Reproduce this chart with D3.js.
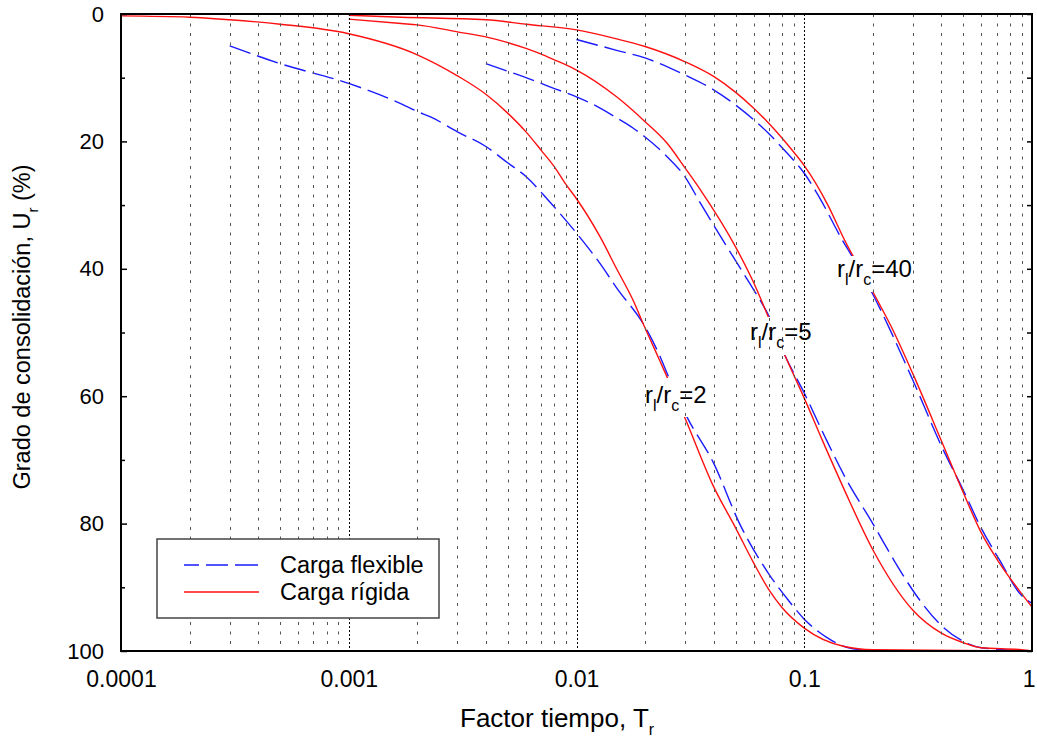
<!DOCTYPE html>
<html>
<head>
<meta charset="utf-8">
<script src="https://cdn.jsdelivr.net/npm/d3@7"></script>
<style>
html,body{margin:0;padding:0;background:#fff;}
text{font-family:"Liberation Sans",Arial,sans-serif;fill:#000;}
</style>
</head>
<body>
<svg id="chart" width="1037" height="740"></svg>
<script>
// ---- data ----
const xTickValues = [0.0001, 0.001, 0.01, 0.1, 1];
const xTickLabels = ["0.0001", "0.001", "0.01", "0.1", "1"];
const yTickValues = [0, 20, 40, 60, 80, 100];
const yMinorTicks = [10, 30, 50, 70, 90];

// r_l/r_c = 2
const rigid2T = [0.0001,0.0002,0.0003,0.0005,0.001,0.002,0.003,0.004,0.005,0.006,0.007,0.008,0.009,0.01,0.0127,0.015,0.0177,0.02,0.0228,0.025,0.03,0.04,0.05,0.06,0.07,0.08,0.1,0.15,0.2,1];
const rigid2U = [0.3,0.5,0.9,1.6,3.1,6.4,9.7,12.6,15.6,18.5,21.4,24,26.8,29,35,40,44.9,49.3,53.8,57,63.5,74.2,80.7,86.2,90.4,93.2,96.4,99.3,99.8,100];
const flex2T = [0.0003,0.0005,0.001,0.0017,0.002,0.0023,0.003,0.004,0.005,0.006,0.0075,0.01,0.0127,0.015,0.02,0.0233,0.0254,0.0305,0.04,0.052,0.069,0.085,0.1,0.126,0.15,0.2];
const flex2U = [5,7.8,10.9,14.1,15.3,16.2,18.5,20.8,23.4,25.5,29.2,34.4,39.2,43,49.1,53.8,57,63.2,70.5,80,87.6,92,95,97.9,99.3,100];

// r_l/r_c = 5
const rigid5T = [0.001,0.0017,0.002,0.003,0.004,0.005,0.006,0.007,0.008,0.009,0.01,0.015,0.02,0.025,0.03,0.035,0.05,0.06,0.07,0.082,0.1,0.12,0.15,0.2,0.3,0.4,0.5,0.6,0.9,1];
const rigid5U = [0.8,1.5,1.7,2.8,3.6,4.5,5.4,6.3,7.2,8,8.8,13,16.9,20.3,24.2,27.6,36.6,42.2,47.8,53.5,60.3,66.9,74.7,84.1,93.6,97.2,98.7,99.5,99.8,100];
const flex5T = [0.004,0.005,0.006,0.007,0.008,0.01,0.0123,0.015,0.0177,0.02,0.025,0.03,0.035,0.0487,0.06,0.069,0.082,0.1,0.1226,0.15,0.2,0.25,0.3,0.4,0.5,0.6,1];
const flex5U = [7.8,9,10,10.9,11.7,13,14.5,16.3,17.9,19.3,22.4,25.6,29.7,38.1,43.3,47,53.5,59.5,66.2,72.5,80,86,90.5,96,98.5,99.5,100];

// r_l/r_c = 40
const rigid40T = [0.001,0.0017,0.004,0.006,0.01,0.015,0.02,0.03,0.04,0.05,0.06,0.07,0.08,0.09,0.1,0.127,0.148,0.2,0.245,0.3,0.4,0.5,0.6,0.72,0.9,1];
const rigid40U = [0.2,0.5,0.9,1.6,2.5,3.9,5.1,7.5,9.8,12.3,14.8,17.2,19.5,21.7,23.8,30,35,43.6,49.6,56.5,67,75.2,81.5,86.2,91,93.1];
const flex40T = [0.01,0.015,0.02,0.03,0.04,0.05,0.06,0.07,0.08,0.09,0.1,0.117,0.147,0.165,0.2,0.3,0.4,0.5,0.6,0.72,0.9,1];
const flex40U = [4,5.7,6.9,9.6,11.9,14.3,16.6,18.8,21,23,25,28.9,35.5,38.5,44,57.5,67.8,74.8,80.8,85.7,91.3,92.5];

const seriesNames = ["Carga flexible", "Carga rígida"];
const seriesColors = ["#1a1aff", "#ff1010"];

// ---- layout ----
const svg = d3.select("#chart");
const L = 121, R = 1032, T = 14, B = 651;
const x = d3.scaleLog().domain([0.0001, 1]).range([L, R]);
const y = d3.scaleLinear().domain([0, 100]).range([T, B]);

const line = d3.line().x(d => x(d[0])).y(d => y(d[1])).curve(d3.curveMonotoneX);
function zip(a, b) { return a.map((v, i) => [v, b[i]]); }

const curves = [
  {T: flex2T, U: flex2U, s: 0}, {T: rigid2T, U: rigid2U, s: 1},
  {T: flex5T, U: flex5U, s: 0}, {T: rigid5T, U: rigid5U, s: 1},
  {T: flex40T, U: flex40U, s: 0}, {T: rigid40T, U: rigid40U, s: 1}
];

svg.append("g").selectAll("path").data(curves).join("path")
  .attr("d", d => line(zip(d.T, d.U)))
  .attr("fill", "none")
  .attr("stroke", d => seriesColors[d.s])
  .attr("stroke-width", 1.4)
  .attr("stroke-dasharray", d => d.s === 0 ? "22,7" : null);

// label white boxes (break the curves)
const labels = [
  {num: "2", x: 645, y: 403, box: [643, 378, 66, 39]},
  {num: "5", x: 750, y: 340, box: [748, 317, 64, 38]},
  {num: "40", x: 837, y: 277, box: [835, 256, 78, 36]}
];
svg.append("g").selectAll("rect").data(labels).join("rect")
  .attr("x", d => d.box[0]).attr("y", d => d.box[1])
  .attr("width", d => d.box[2]).attr("height", d => d.box[3])
  .attr("fill", "#fff");

// grid lines
const minorVals = [];
const majorVals = [0.001, 0.01, 0.1];
[0.0001, 0.001, 0.01, 0.1].forEach(dec => {
  for (let k = 2; k <= 9; k++) minorVals.push(dec * k);
});
svg.append("g").selectAll("line").data(minorVals).join("line")
  .attr("x1", d => Math.round(x(d)) + 0.5).attr("x2", d => Math.round(x(d)) + 0.5)
  .attr("y1", T).attr("y2", B)
  .attr("stroke", "#555").attr("stroke-width", 1)
  .attr("stroke-dasharray", "3,6.5");
svg.append("g").selectAll("line").data(majorVals).join("line")
  .attr("x1", d => Math.round(x(d)) + 0.5).attr("x2", d => Math.round(x(d)) + 0.5)
  .attr("y1", T).attr("y2", B)
  .attr("stroke", "#000").attr("stroke-width", 1)
  .attr("stroke-dasharray", "2,2");

// curve labels
labels.forEach(d => {
  const t = svg.append("text").attr("x", d.x).attr("y", d.y).attr("font-size", 24);
  t.append("tspan").text("r");
  t.append("tspan").attr("font-size", 16).attr("dy", 8).text("l");
  t.append("tspan").attr("dy", -8).text("/r");
  t.append("tspan").attr("font-size", 16).attr("dy", 8).text("c");
  t.append("tspan").attr("dy", -8).text("=" + d.num);
});

// axes frame
svg.append("rect").attr("x", L).attr("y", T).attr("width", R - L).attr("height", B - T)
  .attr("fill", "none").attr("stroke", "#000").attr("stroke-width", 2);

// y ticks (left & right, inward)
const yAxisL = d3.axisLeft(y).tickValues(yTickValues).tickSize(-6).tickPadding(17).tickFormat(d3.format("d"));
const gyl = svg.append("g").attr("transform", `translate(${L},0)`).call(yAxisL);
gyl.select(".domain").remove();
gyl.selectAll("line").attr("stroke-width", 1.5);
gyl.selectAll("text").attr("font-size", 22).attr("font-family", "Liberation Sans, Arial, sans-serif");
const gylm = svg.append("g").attr("transform", `translate(${L},0)`)
  .call(d3.axisLeft(y).tickValues(yMinorTicks).tickSize(-4).tickFormat(""));
gylm.select(".domain").remove();
gylm.selectAll("line").attr("stroke-width", 1.5);
const gyr = svg.append("g").attr("transform", `translate(${R},0)`)
  .call(d3.axisRight(y).tickValues(yTickValues.concat(yMinorTicks)).tickSize(-5).tickFormat(""));
gyr.select(".domain").remove();
gyr.selectAll("line").attr("stroke-width", 1.5);

// x tick labels
const xAxis = d3.axisBottom(x).tickValues(xTickValues).tickSize(0).tickPadding(20)
  .tickFormat((d, i) => xTickLabels[i]);
const gx = svg.append("g").attr("transform", `translate(0,${B})`).call(xAxis);
gx.select(".domain").remove();
gx.selectAll("text").attr("font-size", 23).attr("font-family", "Liberation Sans, Arial, sans-serif");
gx.selectAll("text").filter(d => d === 1).attr("text-anchor", "end").attr("dx", 3);

// axis titles
const xt = svg.append("text").attr("x", 460).attr("y", 727).attr("text-anchor", "start").attr("font-size", 26);
xt.append("tspan").text("Factor tiempo, T");
xt.append("tspan").attr("font-size", 16).attr("dy", 8).text("r");

const yt = svg.append("text").attr("transform", "translate(30,327) rotate(-90)")
  .attr("text-anchor", "middle").attr("font-size", 23.5);
yt.append("tspan").text("Grado de consolidación, U");
yt.append("tspan").attr("font-size", 15).attr("dy", 8).text("r");
yt.append("tspan").attr("dy", -8).text(" (%)");

// legend
const lg = svg.append("g");
lg.append("rect").attr("x", 157).attr("y", 539).attr("width", 282).attr("height", 79)
  .attr("fill", "#fff").attr("stroke", "#444").attr("stroke-width", 1.5);
const legY = [565, 592];
seriesNames.forEach((name, i) => {
  lg.append("line").attr("x1", 184).attr("x2", 259).attr("y1", legY[i]).attr("y2", legY[i])
    .attr("stroke", seriesColors[i]).attr("stroke-width", 1.4)
    .attr("stroke-dasharray", i === 0 ? "15,7,22,7,23" : null);
  lg.append("text").attr("x", 280).attr("y", legY[i] + 8).attr("font-size", 23.5).text(name);
});
</script>
</body>
</html>
